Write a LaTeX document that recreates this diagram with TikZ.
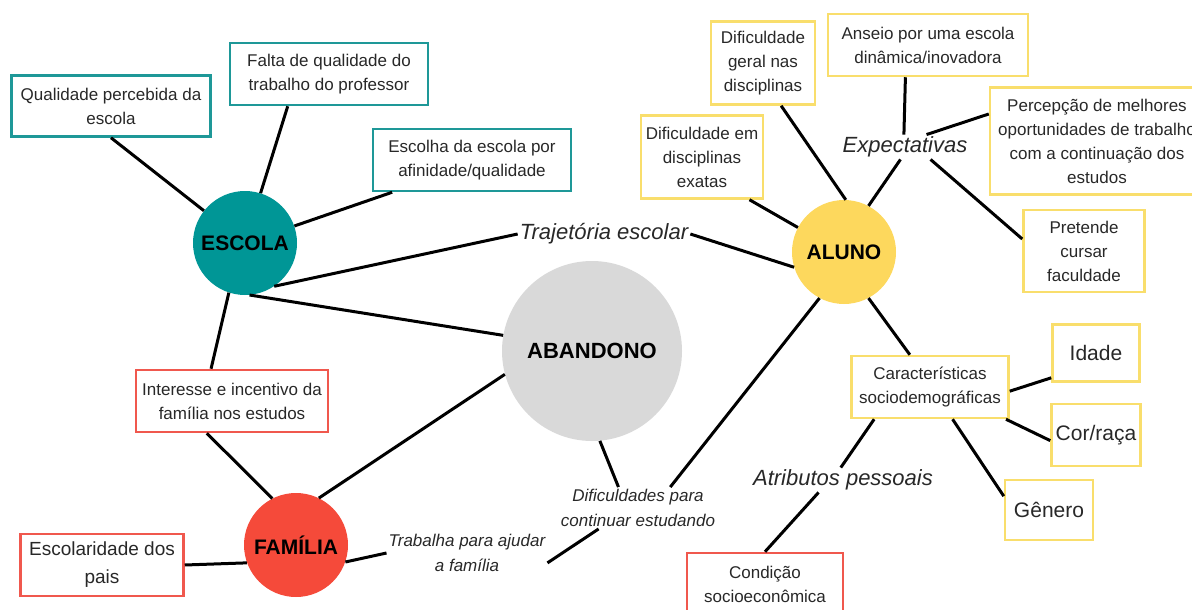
\documentclass[tikz,border=0pt]{standalone}
\usepackage{fontspec}
\setmainfont{Liberation Sans}
\usepackage{xcolor}
\usepackage{tikz}

\definecolor{escolateal}{RGB}{0,150,150}
\definecolor{alunoyellow}{RGB}{253,216,93}
\definecolor{familiared}{RGB}{245,74,58}
\definecolor{abandonogray}{RGB}{217,217,217}
\definecolor{escolaborder}{RGB}{30,152,152}
\definecolor{alunoborder}{RGB}{249,222,108}
\definecolor{familiaborder}{RGB}{240,88,78}
\definecolor{textgray}{RGB}{40,40,40}

\begin{document}
\begin{tikzpicture}[x=1pt, y=-1pt,
    hub/.style={circle, inner sep=0pt, minimum size=104pt, font=\fontsize{21}{25}\selectfont\bfseries},
    card/.style={rectangle, line width=2.5pt, fill=white, align=center, inner sep=2pt, text=textgray, font=\fontsize{17}{24}\selectfont},
    escolacard/.style={card, draw=escolaborder},
    alunocard/.style={card, draw=alunoborder},
    familiacard/.style={card, draw=familiaborder},
    bigcard/.style={alunocard, font=\fontsize{21}{25}\selectfont},
    themelabel/.style={inner sep=2pt, align=center, text=textgray, font=\fontsize{22}{26}\selectfont\itshape},
    smalllabel/.style={themelabel, font=\fontsize{17}{25}\selectfont\itshape},
    connector/.style={line width=3pt, black}]

    \useasboundingbox (0,0) rectangle (1192,610);

    % Define nodes
    \node (escola) [hub, fill=escolateal] at (245,243) {ESCOLA};
    \node (aluno) [hub, fill=alunoyellow] at (844,252) {ALUNO};
    \node (abandono) [hub, fill=abandonogray, minimum size=180pt, font=\fontsize{22}{26}\selectfont\bfseries] at (592,351) {ABANDONO};
    \node (familia) [hub, fill=familiared] at (296,545) {FAMÍLIA};

    \node (qualidade) [escolacard, minimum width=199pt, minimum height=61pt] at (111,106) {Qualidade percebida da\\escola};
    \node (professor) [escolacard, minimum width=198pt, minimum height=62pt] at (329,74) {Falta de qualidade do\\trabalho do professor};
    \node (afinidade) [escolacard, minimum width=198pt, minimum height=62pt] at (472,160) {Escolha da escola por\\afinidade/qualidade};

    \node (interesse) [familiacard, minimum width=192pt, minimum height=62pt] at (232,401) {Interesse e incentivo da\\família nos estudos};
    \node (pais) [familiacard, minimum width=163pt, minimum height=62pt, font=\fontsize{19}{28}\selectfont] at (102,565) {Escolaridade dos\\pais};
    \node (condicao) [familiacard, minimum width=156pt, minimum height=62pt] at (765,584) {Condição\\socioeconômica};

    \node (difgeral) [alunocard, minimum width=104pt, minimum height=83pt] at (763,63) {Dificuldade\\geral nas\\disciplinas};
    \node (anseio) [alunocard, minimum width=200pt, minimum height=62pt] at (928,45) {Anseio por uma escola\\dinâmica/inovadora};
    \node (difexatas) [alunocard, minimum width=122pt, minimum height=83pt] at (702,157) {Dificuldade em\\disciplinas\\exatas};
    \node (percepcao) [alunocard, minimum width=214pt, minimum height=107pt] at (1097,141) {Percepção de melhores\\oportunidades de trabalho\\com a continuação dos\\estudos};
    \node (faculdade) [alunocard, minimum width=121pt, minimum height=82pt] at (1084,251) {Pretende\\cursar\\faculdade};
    \node (sociodem) [alunocard, minimum width=157pt, minimum height=62pt] at (930,387) {Características\\sociodemográficas};
    \node (idade) [bigcard, minimum width=87pt, minimum height=57pt] at (1096,353) {Idade};
    \node (cor) [bigcard, minimum width=89pt, minimum height=62pt] at (1096,435) {Cor/raça};
    \node (genero) [bigcard, minimum width=88pt, minimum height=60pt] at (1049,510) {Gênero};

    \node (trajetoria) [themelabel] at (604,234) {Trajetória escolar};
    \node (expectativas) [themelabel] at (905,147) {Expectativas};
    \node (atributos) [themelabel] at (843,480) {Atributos pessoais};
    \node (dificuldades) [smalllabel] at (638,508) {Dificuldades para\\continuar estudando};
    \node (trabalha) [smalllabel] at (467,553) {Trabalha para ajudar\\a família};

    % Define connections
    \draw[connector] (escola) -- (qualidade.south);
    \draw[connector] (escola) -- (professor.218);
    \draw[connector] (escola) -- (afinidade.202);
    \draw[connector] (escola.-56) -- (trajetoria.west);
    \draw[connector] (trajetoria.east) -- (aluno.197);
    \draw[connector] (escola.-85) -- (abandono.170);
    \draw[connector] (escola.-108) -- (interesse.123);

    \draw[connector] (interesse.232) -- (familia.117);
    \draw[connector] (familia.64) -- (abandono.195);
    \draw[connector] (pais.east) -- (familia.200);
    \draw[connector] (familia.-19) -- (trabalha.west);
    \draw[connector] (trabalha.-7) -- (dificuldades.208);
    \draw[connector] (abandono.-85) -- (dificuldades.133);
    \draw[connector] (aluno.-118) -- (dificuldades.33);

    \draw[connector] (aluno.88) -- (difgeral.-67);
    \draw[connector] (aluno.152) -- (difexatas.-42);
    \draw[connector] (aluno.62) -- (expectativas.250);
    \draw[connector] (expectativas.95) -- (anseio.235);
    \draw[connector] (expectativas.30) -- (percepcao.166);
    \draw[connector] (expectativas.-26) -- (faculdade.169);
    \draw[connector] (aluno.-62) -- (sociodem.122);
    \draw[connector] (sociodem.-3) -- (idade.209);
    \draw[connector] (sociodem.-23) -- (cor.187);
    \draw[connector] (sociodem.-55) -- (genero.163);
    \draw[connector] (sociodem.210) -- (atributos.100);
    \draw[connector] (atributos.207) -- (condicao.north);

\end{tikzpicture}
\end{document}
